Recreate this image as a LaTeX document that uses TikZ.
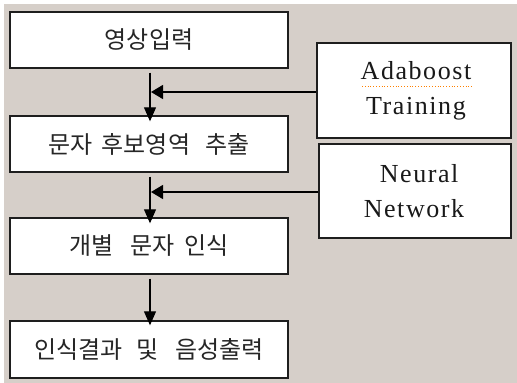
\documentclass[tikz,border=0pt]{standalone}
\usepackage{fontspec}
\newfontfamily\kofont{Noto Sans CJK KR}
\newfontfamily\enfont[LetterSpace=6]{Liberation Serif}
\usetikzlibrary{arrows.meta}
\definecolor{bggray}{RGB}{214,207,201}
\definecolor{edge}{RGB}{30,30,30}
\tikzset{
  box/.style={draw=edge, line width=1.4pt, fill=white, inner sep=0pt},
  kotext/.style={font=\kofont\fontsize{24}{28}\selectfont, text=black!85},
  entext/.style={font=\enfont\fontsize{26}{35}\selectfont, align=center, text=black!90},
  arr/.style={line width=1.2pt, draw=black, -{Triangle[length=14pt,width=12pt]}},
  harr/.style={line width=1.2pt, draw=black, -{Triangle[length=12pt,width=14pt]}}
}
\begin{document}
\begin{tikzpicture}[x=1pt,y=-1pt]
\useasboundingbox (0,0) rectangle (517,383);
\fill[white] (0,0) rectangle (517,383);
\fill[bggray] (4,4) rectangle (517,383);
% left boxes
\node[box, minimum width=278pt, minimum height=56pt] (b1) at (149,40) {};
\node[box, minimum width=278pt, minimum height=56pt] (b2) at (149,144) {};
\node[box, minimum width=278pt, minimum height=56pt] (b3) at (149,246) {};
\node[box, minimum width=278pt, minimum height=57pt] (b4) at (149,349.5) {};
\node[kotext] (t1) at (b1) {영상입력};
\node[kotext] (t2) at (b2) {문자\hspace{0.4em}후보영역\hspace{0.65em}추출};
\node[kotext] (t3) at (b3) {개별\hspace{0.7em}문자\hspace{0.4em}인식};
\node[kotext] (t4) at (b4) {인식결과\hspace{0.55em}및\hspace{0.7em}음성출력};
% right boxes
\node[box, minimum width=194pt, minimum height=95pt] (r1) at (414,90.5) {};
\node[box, minimum width=192pt, minimum height=94pt] (r2) at (415,191) {};
\node[entext] (rt1) at (416,91) {Adaboost\\Training};
\node[entext] (rt2) at (414,191) {\hspace{0.4em}Neural\\Network};
% spell-check underline
\draw[orange, line width=0.8pt, dotted] (362,86.5) -- (472,86.5);
% arrows
\coordinate (j1) at (150,92);
\coordinate (j2) at (150,192);
\draw[arr] ([yshift=-4pt]b1.south -| j1) -- ([yshift=-6pt]b2.north -| j1);
\draw[arr] ([yshift=-4pt]b2.south -| j2) -- ([yshift=-6pt]b3.north -| j2);
\draw[arr] ([yshift=-4pt]b3.south -| j2) -- ([yshift=-5pt]b4.north -| j2);
\draw[harr] (r1.west |- j1) -- ([xshift=1pt]j1);
\draw[harr] (r2.west |- j2) -- ([xshift=1pt]j2);
\end{tikzpicture}
\end{document}
